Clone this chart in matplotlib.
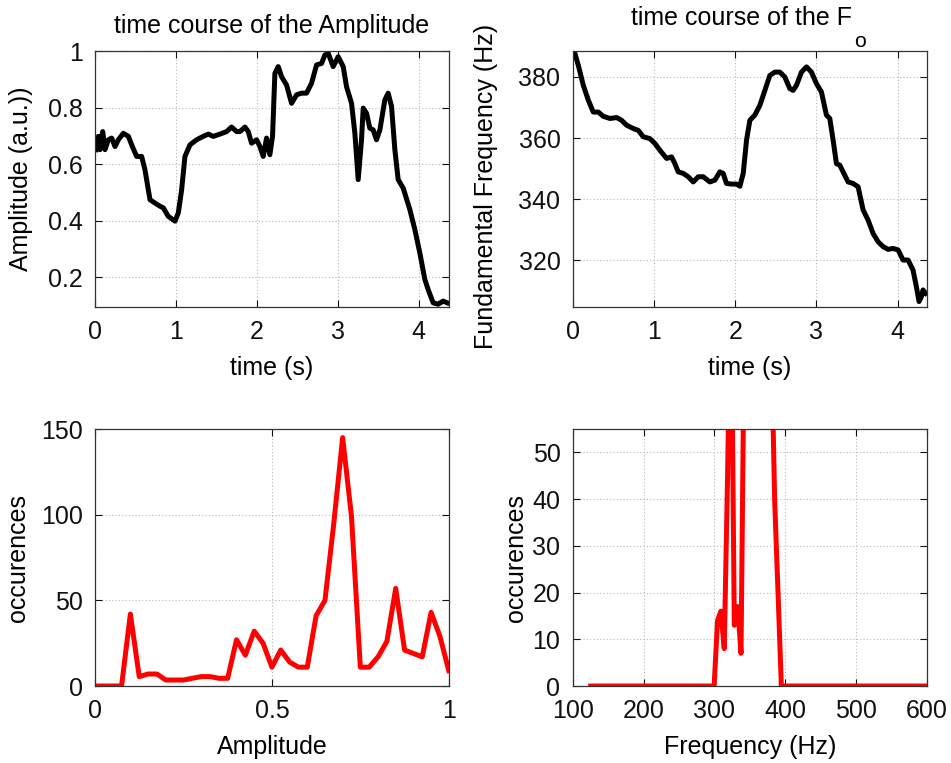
import matplotlib
matplotlib.use("Agg")
import matplotlib.pyplot as plt
from matplotlib.ticker import FuncFormatter

plt.rcParams['font.family'] = ['Liberation Sans', 'DejaVu Sans']

FS = 18

# ---------------- data ----------------
amp_time = [0.012, 0.041, 0.062, 0.095, 0.123, 0.165, 0.206, 0.247, 0.288, 0.350,
            0.412, 0.453, 0.514, 0.576, 0.617, 0.679, 0.741, 0.802, 0.844, 0.905,
            0.988, 1.029, 1.070, 1.111, 1.173, 1.255, 1.337, 1.399, 1.461, 1.543,
            1.626, 1.687, 1.749, 1.790, 1.852, 1.893, 1.934, 1.996, 2.037, 2.078,
            2.119, 2.160, 2.193, 2.222, 2.263, 2.305, 2.366, 2.428, 2.490, 2.551,
            2.613, 2.675, 2.737, 2.798, 2.840, 2.881, 2.942, 3.004, 3.066, 3.107,
            3.169, 3.210, 3.251, 3.292, 3.313, 3.354, 3.395, 3.436, 3.477, 3.519,
            3.580, 3.621, 3.663, 3.704, 3.745, 3.807, 3.889, 3.951, 4.012, 4.074,
            4.115, 4.177, 4.239, 4.300, 4.350]
amp_values = [0.651, 0.698, 0.651, 0.715, 0.651, 0.686, 0.692, 0.662, 0.686, 0.709,
              0.698, 0.668, 0.627, 0.627, 0.580, 0.474, 0.462, 0.451, 0.445, 0.415,
              0.398, 0.427, 0.509, 0.627, 0.668, 0.686, 0.698, 0.706, 0.698, 0.706,
              0.715, 0.731, 0.715, 0.715, 0.731, 0.715, 0.674, 0.686, 0.662, 0.627,
              0.692, 0.633, 0.698, 0.921, 0.945, 0.909, 0.880, 0.815, 0.845, 0.851,
              0.851, 0.886, 0.951, 0.956, 0.986, 0.992, 0.945, 0.980, 0.945, 0.874,
              0.815, 0.709, 0.545, 0.686, 0.798, 0.780, 0.727, 0.721, 0.686, 0.721,
              0.827, 0.851, 0.804, 0.651, 0.545, 0.515, 0.439, 0.368, 0.286, 0.192,
              0.156, 0.109, 0.104, 0.115, 0.109]

f0_time = [0.000, 0.025, 0.066, 0.127, 0.189, 0.250, 0.312, 0.374, 0.456, 0.538,
           0.599, 0.661, 0.743, 0.805, 0.866, 0.948, 1.010, 1.071, 1.154, 1.215,
           1.256, 1.297, 1.359, 1.420, 1.482, 1.544, 1.605, 1.687, 1.749, 1.810,
           1.851, 1.892, 1.954, 2.016, 2.057, 2.098, 2.139, 2.180, 2.241, 2.303,
           2.365, 2.426, 2.488, 2.549, 2.611, 2.672, 2.713, 2.755, 2.816, 2.878,
           2.939, 3.001, 3.062, 3.124, 3.165, 3.206, 3.247, 3.288, 3.329, 3.391,
           3.452, 3.514, 3.576, 3.637, 3.699, 3.760, 3.822, 3.883, 3.945, 4.007,
           4.068, 4.130, 4.191, 4.232, 4.265, 4.294, 4.314, 4.347]
f0_values = [389.5, 387.6, 383.8, 377.3, 372.4, 368.5, 368.5, 367.1, 366.4, 366.7,
             365.8, 364.2, 363.1, 362.5, 360.4, 359.8, 358.2, 356.0, 353.3, 353.8,
             351.6, 348.9, 348.4, 347.3, 345.6, 347.3, 347.3, 345.6, 346.2, 348.9,
             348.4, 345.1, 344.9, 344.9, 344.2, 348.4, 359.3, 365.8, 367.5, 370.7,
             375.6, 380.5, 381.6, 381.6, 380.0, 376.2, 375.6, 377.3, 381.6, 383.3,
             381.6, 377.8, 375.1, 367.5, 366.4, 359.3, 351.6, 351.1, 348.9, 345.6,
             345.1, 344.0, 336.4, 333.1, 328.7, 326.0, 324.4, 323.5, 323.8, 323.3,
             320.0, 320.0, 316.7, 311.3, 306.4, 308.0, 310.2, 309.1]

amp_bins = [0.000, 0.025, 0.050, 0.075, 0.100, 0.125, 0.150, 0.175, 0.200, 0.225,
            0.250, 0.275, 0.300, 0.325, 0.350, 0.375, 0.400, 0.425, 0.450, 0.475,
            0.500, 0.525, 0.550, 0.575, 0.600, 0.625, 0.650, 0.675, 0.700, 0.725,
            0.750, 0.775, 0.800, 0.825, 0.850, 0.875, 0.900, 0.925, 0.950, 0.975,
            1.000]
amp_counts = [0, 0, 0, 0, 42, 5.5, 7, 7, 3.5, 3.5,
              3.5, 4.5, 5.5, 5.5, 4.5, 4.5, 27, 18, 32, 25,
              11, 21, 14, 11, 11, 41, 50, 95, 145, 99,
              11, 11, 17, 26, 57, 21, 19, 17, 43, 29,
              9]

f0_bins = [125, 299.5, 304.3, 309.0, 313.8, 318.5, 323.3, 328.0, 332.8, 337.5,
           342.3, 347.0, 351.8, 356.5, 361.3, 366.0, 370.8, 375.5, 380.3, 385.0,
           389.8, 394.5, 600]
f0_counts = [0, 0, 14, 16, 8, 45, 90, 13, 17, 7,
             80, 150, 60, 65, 75, 95, 60, 85, 75, 40,
             20, 0, 0]

# ---------------- figure ----------------
fig = plt.figure(figsize=(9.51, 7.63), dpi=100)
L1, L2, W = 0.0999, 0.6025, 0.372
B_top, H_top = 0.5976, 0.3355
B_bot, H_bot = 0.1009, 0.3368
ax1 = fig.add_axes([L1, B_top, W, H_top])
ax2 = fig.add_axes([L2, B_top, W, H_top])
ax3 = fig.add_axes([L1, B_bot, W, H_bot])
ax4 = fig.add_axes([L2, B_bot, W, H_bot])

def style(ax):
    ax.grid(True, linestyle=(0, (1, 2)), color='#b8b8b8', linewidth=0.8)
    ax.set_axisbelow(True)
    ax.tick_params(direction='in', top=True, right=True, length=5, width=0.8,
                   labelsize=FS, pad=9, colors='#111111')
    for s in ax.spines.values():
        s.set_color('#333333')
        s.set_linewidth(0.9)

gfmt = FuncFormatter(lambda v, p: '%g' % v)

ax1.plot(amp_time, amp_values, color='black', linewidth=3.6)
ax1.set_xlim(0, 4.37)
ax1.set_ylim(0.094, 1.0)
ax1.set_xticks([0, 1, 2, 3, 4])
ax1.set_yticks([0.2, 0.4, 0.6, 0.8, 1.0])
ax1.yaxis.set_major_formatter(gfmt)
ax1.text(0.5, 1.070, 'time course of the Amplitude', transform=ax1.transAxes,
         ha='center', va='baseline', fontsize=FS)
ax1.set_xlabel('time (s)', fontsize=FS)
ax1.set_ylabel('Amplitude (a.u.))', fontsize=FS)
style(ax1)

ax2.plot(f0_time, f0_values, color='black', linewidth=3.6)
ax2.set_xlim(0, 4.36)
ax2.set_ylim(304.6, 388.5)
ax2.set_xticks([0, 1, 2, 3, 4])
ax2.set_yticks([320, 340, 360, 380])
t2 = ax2.text(0.477, 1.102, 'time course of the F', transform=ax2.transAxes,
              ha='center', va='baseline', fontsize=FS)
ax2.annotate('o', xy=(1, 0), xycoords=t2, xytext=(1.5, -1.5),
             textcoords='offset points', ha='left', va='top', fontsize=FS * 0.85)
ax2.set_xlabel('time (s)', fontsize=FS)
ax2.set_ylabel('Fundamental Frequency (Hz)', fontsize=FS)
style(ax2)

ax3.plot(amp_bins, amp_counts, color='#ff0000', linewidth=3.6)
ax3.set_xlim(0, 1)
ax3.set_ylim(0, 150)
ax3.set_xticks([0, 0.5, 1])
ax3.xaxis.set_major_formatter(gfmt)
ax3.set_yticks([0, 50, 100, 150])
ax3.set_xlabel('Amplitude', fontsize=FS)
ax3.set_ylabel('occurences', fontsize=FS)
style(ax3)

ax4.plot(f0_bins, f0_counts, color='#ff0000', linewidth=3.6)
ax4.set_xlim(100, 600)
ax4.set_ylim(0, 55)
ax4.set_xticks([100, 200, 300, 400, 500, 600])
ax4.set_yticks([0, 10, 20, 30, 40, 50])
ax4.set_xlabel('Frequency (Hz)', fontsize=FS)
ax4.set_ylabel('occurences', fontsize=FS)
style(ax4)

ax1.yaxis.set_label_coords(-0.175, 0.5)
ax2.yaxis.set_label_coords(-0.212, 0.47)
ax3.yaxis.set_label_coords(-0.184, 0.5)
ax4.yaxis.set_label_coords(-0.128, 0.5)
for ax in (ax1, ax2, ax3, ax4):
    ax.xaxis.set_label_coords(0.5, -0.19)

fig.savefig('out.png', dpi=100)
